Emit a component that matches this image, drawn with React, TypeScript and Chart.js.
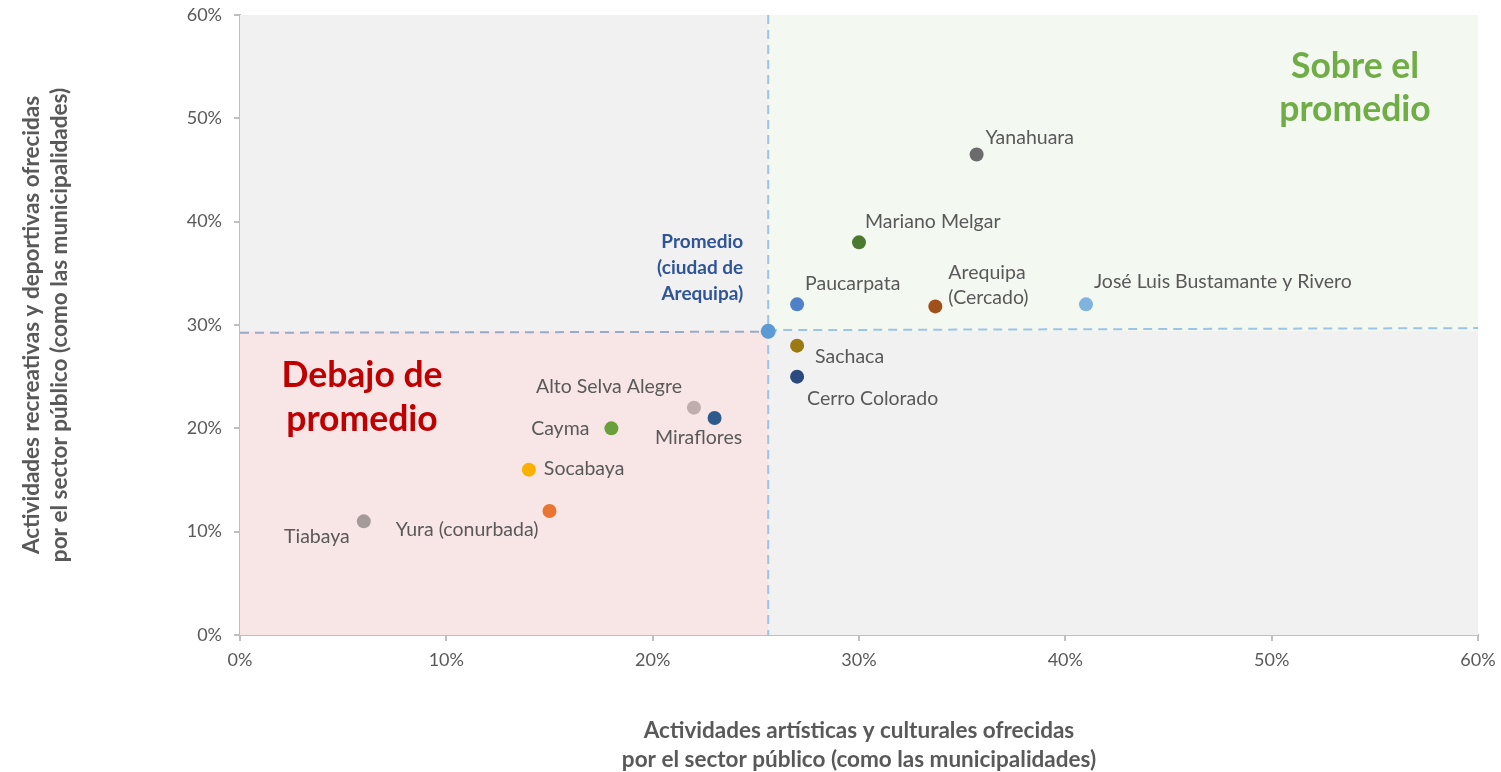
import React, { useEffect, useRef } from "react";
import { Chart, registerables } from "chart.js";

Chart.register(...registerables);

const names = [
  "Yanahuara",
  "Mariano Melgar",
  "Paucarpata",
  "Arequipa\n(Cercado)",
  "José Luis Bustamante y Rivero",
  "Sachaca",
  "Cerro Colorado",
  "Alto Selva Alegre",
  "Miraflores",
  "Cayma",
  "Socabaya",
  "Yura (conurbada)",
  "Tiabaya",
];
const xValues = [35.7, 30.0, 27.0, 33.7, 41.0, 27.0, 27.0, 22.0, 23.0, 18.0, 14.0, 15.0, 6.0];
const yValues = [46.5, 38.0, 32.0, 31.8, 32.0, 28.0, 25.0, 22.0, 21.0, 20.0, 16.0, 12.0, 11.0];
const pointColors = [
  "#6b6b6b", "#4b7a2f", "#4f81c8", "#a0501a", "#80b3dd", "#9c7a12", "#2b4a80",
  "#bfacac", "#2f5a8c", "#6aa03c", "#fbb000", "#ea7431", "#a59a9a",
];
// label placement relative to point: [dx, dy, align]
const labelLayout: [number, number, CanvasTextAlign][] = [
  [9, -17, "left"],
  [6, -21, "left"],
  [8, -21, "left"],
  [13, -34, "left"],
  [8, -23, "left"],
  [18, 11, "left"],
  [10, 22, "left"],
  [-12, -21, "right"],
  [-16, 20, "center"],
  [-22, 0, "right"],
  [15, -1, "left"],
  [-11, 19, "right"],
  [-14, 15, "right"],
];

const avgX = 25.6;
const avgY = 29.4;
const avgLineLeft = [29.25, 29.35];
const avgLineRight = [29.5, 29.7];
const avgLabel = ["Promedio", "(ciudad de", "Arequipa)"];
const aboveLabel = ["Sobre el", "promedio"];
const belowLabel = ["Debajo de", "promedio"];
const xTitle = ["Actividades artísticas y culturales ofrecidas", "por el sector público (como las municipalidades)"];
const yTitle = ["Actividades recreativas y deportivas ofrecidas", "por el sector público (como las municipalidades)"];

const FONT = "Lato, 'Open Sans', sans-serif";

const overlayPlugin = {
  id: "overlay",
  beforeDatasetsDraw(chart: any) {
    const { ctx, chartArea: a, scales } = chart;
    const xs = scales.x, ys = scales.y;
    const px = xs.getPixelForValue(avgX);
    const py = ys.getPixelForValue(avgY);
    ctx.save();
    ctx.fillStyle = "#f1f1f1";
    ctx.fillRect(a.left, a.top, a.right - a.left, a.bottom - a.top);
    ctx.fillStyle = "#f3f8f1";
    ctx.fillRect(px, a.top, a.right - px, py - a.top);
    ctx.fillStyle = "#f8e5e5";
    ctx.fillRect(a.left, py, px - a.left, a.bottom - py);

    ctx.lineWidth = 2;
    ctx.setLineDash([9, 6]);
    ctx.strokeStyle = "#9dc3e6";
    ctx.beginPath();
    ctx.moveTo(px, a.top);
    ctx.lineTo(px, a.bottom);
    ctx.stroke();
    ctx.beginPath();
    ctx.moveTo(px, ys.getPixelForValue(avgLineRight[0]));
    ctx.lineTo(a.right, ys.getPixelForValue(avgLineRight[1]));
    ctx.stroke();
    ctx.strokeStyle = "#9aaac4";
    ctx.beginPath();
    ctx.moveTo(a.left, ys.getPixelForValue(avgLineLeft[0]));
    ctx.lineTo(px, ys.getPixelForValue(avgLineLeft[1]));
    ctx.stroke();
    ctx.restore();
  },
  afterDatasetsDraw(chart: any) {
    const { ctx, chartArea: a, scales } = chart;
    const xs = scales.x, ys = scales.y;
    ctx.save();
    ctx.textBaseline = "middle";
    ctx.font = `19.5px ${FONT}`;
    ctx.fillStyle = "#595959";
    names.forEach((n, i) => {
      const x = xs.getPixelForValue(xValues[i]);
      const y = ys.getPixelForValue(yValues[i]);
      const [dx, dy, al] = labelLayout[i];
      ctx.textAlign = al;
      n.split("\n").forEach((line, k) => {
        ctx.fillText(line, x + dx, y + dy + k * 25);
      });
    });
    // average label
    const px = xs.getPixelForValue(avgX);
    const py = ys.getPixelForValue(avgY);
    ctx.font = `bold 19px ${FONT}`;
    ctx.fillStyle = "#2f5597";
    ctx.textAlign = "right";
    avgLabel.forEach((l, k) => ctx.fillText(l, px - 25, py - 89 + k * 26));
    // quadrant labels
    ctx.font = `bold 35.5px ${FONT}`;
    ctx.textAlign = "center";
    ctx.fillStyle = "#70ad47";
    aboveLabel.forEach((l, k) => ctx.fillText(l, a.right - 123, a.top + 52 + k * 43));
    ctx.fillStyle = "#c00000";
    belowLabel.forEach((l, k) => ctx.fillText(l, a.left + 122, py + 44 + k * 44));
    // axis titles
    ctx.font = `bold 22.5px ${FONT}`;
    ctx.fillStyle = "#595959";
    ctx.textAlign = "center";
    const cx = (a.left + a.right) / 2;
    xTitle.forEach((l, k) => ctx.fillText(l, cx, 731 + k * 29));
    ctx.translate(0, 325);
    ctx.rotate(-Math.PI / 2);
    yTitle.forEach((l, k) => ctx.fillText(l, 0, 32 + k * 28));
    ctx.restore();
  },
};

export default function App() {
  const ref = useRef<HTMLCanvasElement>(null);
  useEffect(() => {
    document.body.style.margin = "0";
    const chart = new Chart(ref.current!, {
      type: "scatter",
      data: {
        datasets: [
          {
            data: xValues.map((x, i) => ({ x, y: yValues[i] })),
            pointBackgroundColor: pointColors,
            pointBorderWidth: 0,
            pointRadius: 7,
          },
          {
            data: [{ x: avgX, y: avgY }],
            pointBackgroundColor: "#5b9bd5",
            pointBorderWidth: 0,
            pointRadius: 7.5,
          },
        ],
      },
      options: {
        animation: false,
        responsive: false,
        maintainAspectRatio: false,
        layout: { padding: { left: 0, right: 23, top: 15, bottom: 0 } },
        plugins: { legend: { display: false }, tooltip: { enabled: false } },
        scales: {
          x: {
            type: "linear",
            min: 0,
            max: 60,
            afterFit: (s: any) => { s.height = 137; s.paddingLeft = 0; s.paddingRight = 0; },
            border: { color: "#bfbfbf", width: 2 },
            grid: { drawOnChartArea: false, drawTicks: true, tickLength: 6, color: "#bfbfbf", lineWidth: 2 },
            ticks: {
              stepSize: 10,
              padding: 8,
              color: "#595959",
              font: { size: 18, family: FONT },
              callback: (v: any) => v + "%",
            },
          },
          y: {
            type: "linear",
            min: 0,
            max: 60,
            afterFit: (s: any) => { s.width = 240; s.paddingTop = 0; s.paddingBottom = 0; },
            border: { color: "#bfbfbf", width: 2 },
            grid: { drawOnChartArea: false, drawTicks: true, tickLength: 6, color: "#bfbfbf", lineWidth: 2 },
            ticks: {
              stepSize: 10,
              padding: 12,
              color: "#595959",
              font: { size: 18, family: FONT },
              callback: (v: any) => v + "%",
            },
          },
        },
      },
      plugins: [overlayPlugin],
    });
    return () => chart.destroy();
  }, []);
  return (
    <div style={{ width: 1501, height: 772 }}>
      <canvas ref={ref} width={1501} height={772} style={{ display: "block" }} />
    </div>
  );
}
